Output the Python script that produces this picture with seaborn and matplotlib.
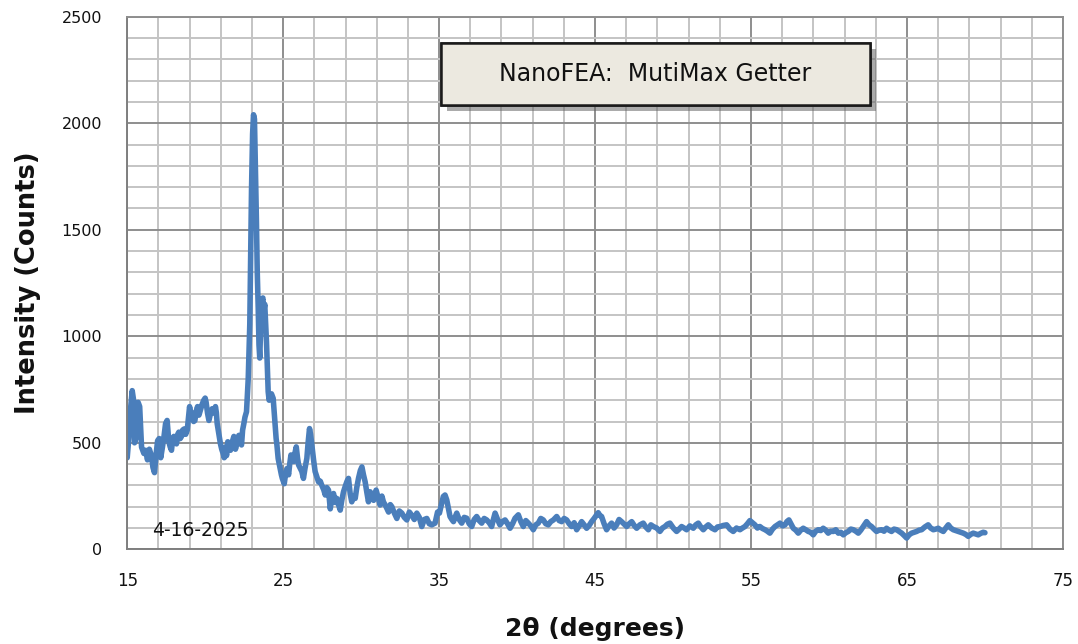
import numpy as np
import pandas as pd
import matplotlib
matplotlib.use('Agg')
import matplotlib.pyplot as plt
from matplotlib.ticker import MultipleLocator
from matplotlib.patches import Rectangle
import matplotlib.patheffects as pe
import seaborn as sns

# values (2-theta in degrees, counts)
two_theta = [
    15.00, 15.10, 15.19, 15.32, 15.41, 15.47, 15.55, 15.62, 15.70, 15.80,
    15.92, 16.07, 16.18, 16.30, 16.42, 16.55, 16.65, 16.75, 16.86, 16.95,
    17.05, 17.15, 17.26, 17.36, 17.46, 17.56, 17.67, 17.76, 17.84, 17.92,
    17.99, 18.08, 18.16, 18.24, 18.31, 18.40, 18.48, 18.56, 18.65, 18.75,
    18.85, 18.93, 19.00, 19.09, 19.17, 19.26, 19.34, 19.43, 19.51, 19.60,
    19.70, 19.80, 19.91, 20.00, 20.06, 20.15, 20.24, 20.35, 20.45, 20.55,
    20.66, 20.72, 20.77, 20.88, 20.98, 21.06, 21.15, 21.22, 21.30, 21.37,
    21.45, 21.53, 21.62, 21.72, 21.84, 21.94, 22.05, 22.16, 22.25, 22.33,
    22.40, 22.48, 22.55, 22.65, 22.76, 22.86, 22.97, 23.04, 23.10, 23.16,
    23.22, 23.29, 23.34, 23.40, 23.45, 23.50, 23.56, 23.61, 23.70, 23.76,
    23.82, 23.88, 23.93, 24.00, 24.04, 24.10, 24.15, 24.25, 24.36, 24.42,
    24.47, 24.55, 24.60, 24.68, 24.78, 24.89, 24.95, 25.07, 25.15, 25.24,
    25.35, 25.42, 25.50, 25.58, 25.67, 25.75, 25.84, 25.92, 25.99, 26.10,
    26.20, 26.30, 26.40, 26.52, 26.60, 26.69, 26.76, 26.84, 26.95, 27.05,
    27.16, 27.27, 27.38, 27.48, 27.60, 27.70, 27.80, 27.91, 28.02, 28.12,
    28.23, 28.34, 28.44, 28.55, 28.66, 28.76, 28.87, 29.00, 29.10, 29.19,
    29.30, 29.40, 29.50, 29.62, 29.72, 29.83, 29.95, 30.05, 30.15, 30.26,
    30.36, 30.47, 30.58, 30.69, 30.80, 30.96, 31.10, 31.22, 31.33, 31.43,
    31.60, 31.76, 31.87, 31.97, 32.13, 32.29, 32.45, 32.61, 32.77, 32.93,
    33.09, 33.25, 33.41, 33.57, 33.73, 33.89, 34.05, 34.21, 34.37, 34.53,
    34.74, 34.90, 35.02, 35.15, 35.27, 35.38, 35.49, 35.60, 35.70, 35.82,
    35.92, 36.02, 36.13, 36.29, 36.45, 36.61, 36.77, 36.93, 37.09, 37.25,
    37.41, 37.57, 37.73, 37.89, 38.05, 38.21, 38.37, 38.48, 38.59, 38.75,
    38.90, 39.06, 39.23, 39.39, 39.55, 39.71, 39.87, 40.08, 40.24, 40.40,
    40.56, 40.72, 40.88, 41.04, 41.20, 41.36, 41.52, 41.68, 41.84, 42.00,
    42.16, 42.33, 42.54, 42.70, 42.86, 43.02, 43.18, 43.34, 43.50, 43.66,
    43.82, 43.98, 44.14, 44.30, 44.46, 44.62, 44.78, 44.94, 45.10, 45.20,
    45.30, 45.42, 45.58, 45.74, 45.90, 46.06, 46.22, 46.38, 46.54, 46.70,
    46.87, 47.03, 47.19, 47.35, 47.51, 47.67, 47.88, 48.09, 48.25, 48.42,
    48.58, 48.74, 48.95, 49.16, 49.32, 49.48, 49.64, 49.80, 50.02, 50.23,
    50.39, 50.55, 50.71, 50.87, 51.08, 51.30, 51.46, 51.62, 51.78, 51.94,
    52.10, 52.26, 52.48, 52.69, 52.85, 53.01, 53.22, 53.44, 53.65, 53.86,
    54.07, 54.29, 54.45, 54.61, 54.77, 54.93, 55.09, 55.25, 55.41, 55.57,
    55.73, 55.90, 56.05, 56.21, 56.38, 56.54, 56.70, 56.86, 57.02, 57.18,
    57.30, 57.43, 57.57, 57.71, 57.87, 58.03, 58.19, 58.35, 58.51, 58.67,
    58.83, 58.99, 59.15, 59.31, 59.47, 59.63, 59.79, 59.95, 60.11, 60.28,
    60.44, 60.60, 60.76, 60.92, 61.08, 61.24, 61.40, 61.56, 61.72, 61.88,
    62.04, 62.20, 62.41, 62.57, 62.73, 62.89, 63.05, 63.21, 63.37, 63.53,
    63.69, 63.85, 64.01, 64.17, 64.34, 64.50, 64.66, 64.82, 64.98, 65.14,
    65.30, 65.46, 65.62, 65.78, 65.94, 66.15, 66.36, 66.52, 66.69, 66.85,
    67.01, 67.17, 67.33, 67.49, 67.65, 67.81, 67.97, 68.13, 68.29, 68.45,
    68.61, 68.77, 68.93, 69.09, 69.25, 69.41, 69.57, 69.73, 69.89, 70.00,
]
counts = [
    430, 520, 640, 745, 700, 500, 520, 600, 690, 670,
    480, 450, 465, 420, 470, 440, 385, 360, 450, 510,
    520, 430, 480, 530, 590, 605, 505, 480, 465, 520,
    530, 500, 495, 540, 550, 520, 530, 560, 565, 540,
    560, 620, 670, 630, 640, 600, 605, 650, 670, 630,
    655, 680, 700, 710, 690, 640, 605, 640, 660, 640,
    670, 640, 590, 540, 495, 470, 450, 430, 480, 440,
    505, 480, 465, 500, 530, 470, 500, 535, 510, 490,
    560, 590, 620, 646, 800, 1056, 1684, 1950, 2040, 2020,
    1800, 1528, 1300, 1134, 960, 898, 1050, 1165, 1180, 1120,
    1150, 1050, 976, 820, 740, 700, 709, 730, 709, 650,
    599, 520, 490, 426, 390, 349, 332, 308, 350, 379,
    350, 400, 443, 420, 412, 450, 481, 430, 396, 380,
    365, 333, 380, 427, 500, 567, 540, 490, 420, 365,
    340, 316, 320, 300, 280, 255, 290, 278, 190, 240,
    262, 220, 239, 210, 184, 230, 270, 300, 320, 333,
    260, 223, 250, 239, 290, 333, 370, 387, 350, 316,
    270, 223, 270, 255, 230, 278, 240, 208, 250, 223,
    200, 175, 210, 200, 170, 145, 180, 170, 150, 138,
    175, 160, 140, 170, 150, 107, 140, 145, 120, 115,
    123, 175, 170, 210, 248, 255, 232, 190, 154, 140,
    130, 150, 170, 140, 123, 150, 146, 120, 107, 140,
    154, 135, 123, 145, 138, 125, 107, 140, 170, 140,
    115, 130, 138, 120, 99, 120, 146, 162, 130, 107,
    135, 123, 110, 92, 115, 123, 145, 138, 120, 115,
    130, 138, 154, 135, 130, 145, 138, 120, 107, 125,
    92, 110, 130, 115, 99, 112, 130, 145, 162, 172,
    160, 154, 120, 92, 110, 123, 100, 115, 140, 130,
    118, 107, 120, 130, 112, 99, 115, 123, 105, 92,
    115, 107, 100, 84, 100, 107, 118, 123, 100, 84,
    95, 107, 100, 92, 110, 99, 115, 123, 105, 92,
    105, 115, 100, 92, 105, 107, 112, 115, 95, 84,
    100, 92, 100, 107, 120, 135, 125, 115, 100, 107,
    98, 92, 85, 76, 95, 107, 115, 123, 110, 115,
    130, 138, 118, 99, 90, 76, 90, 99, 92, 84,
    80, 68, 85, 92, 88, 99, 90, 76, 85, 84,
    92, 76, 80, 68, 78, 84, 95, 92, 85, 76,
    90, 107, 130, 115, 107, 95, 84, 90, 92, 85,
    99, 90, 84, 95, 92, 84, 76, 65, 53, 68,
    76, 80, 84, 90, 92, 105, 115, 100, 92, 95,
    99, 90, 84, 100, 115, 100, 92, 88, 84, 80,
    76, 70, 61, 70, 76, 72, 68, 75, 80, 78,
]

x_ticks = [15, 25, 35, 45, 55, 65, 75]
y_ticks = [0, 500, 1000, 1500, 2000, 2500]
title_text = "NanoFEA:  MutiMax Getter"
date_text = "4-16-2025"

df = pd.DataFrame({"two_theta": two_theta, "counts": counts})

sns.set_style("white")
plt.rcParams['font.family'] = ['DejaVu Sans']

fig = plt.figure(figsize=(10.78, 6.44), dpi=100)
ax = fig.add_axes([0.118, 0.147, 0.868, 0.827])

sns.lineplot(data=df, x="two_theta", y="counts", ax=ax, color="#4a7ebb",
             linewidth=4.0, solid_joinstyle="round", solid_capstyle="round")

ax.set_xlim(15, 75)
ax.set_ylim(0, 2500)
ax.set_xticks(x_ticks)
ax.set_yticks(y_ticks)
ax.xaxis.set_minor_locator(MultipleLocator(2, offset=1))
ax.yaxis.set_minor_locator(MultipleLocator(100))

ax.grid(which="minor", color="#c4c4c4", linewidth=1.4, zorder=0)
ax.grid(which="major", color="#8e8e8e", linewidth=1.4, zorder=0)
ax.set_axisbelow(True)

for side in ["top", "right"]:
    ax.spines[side].set_color("#8e8e8e")
    ax.spines[side].set_linewidth(1.4)
for side in ["left", "bottom"]:
    ax.spines[side].set_color("#7f7f7f")
    ax.spines[side].set_linewidth(1.4)

ax.tick_params(axis="x", which="major", direction="inout", length=8,
               width=1.2, color="#7f7f7f", labelsize=12, pad=12, labelcolor="#111111")
ax.tick_params(axis="x", which="minor", direction="inout", length=8,
               width=1.2, color="#7f7f7f")
ax.tick_params(axis="y", which="major", direction="out", length=6,
               width=1.2, color="#7f7f7f", labelsize=11.5, pad=12, labelcolor="#111111")
ax.tick_params(axis="y", which="minor", length=0)

ax.set_xlabel("2\u03b8 (degrees)", fontsize=18, fontweight="bold", labelpad=20,
              color="#111111")
ax.set_ylabel("Intensity (Counts)", fontsize=18.5, fontweight="bold", labelpad=15,
              color="#111111")

ax.text(16.6, 45, date_text, fontsize=13.5, color="#111111", ha="left", va="bottom")

# title box with a soft drop shadow
box = Rectangle((35.13, 2085), 27.5, 290, facecolor="#ece9e0", edgecolor="#1a1a1a",
                linewidth=1.8, zorder=5)
box.set_path_effects([pe.withSimplePatchShadow(offset=(4, -4), shadow_rgbFace="#666666",
                                               alpha=0.55), pe.Normal()])
ax.add_patch(box)
ax.text(48.88, 2232, title_text, fontsize=17, color="#111111", ha="center", va="center",
        zorder=6)

fig.savefig("out.png", dpi=100)
